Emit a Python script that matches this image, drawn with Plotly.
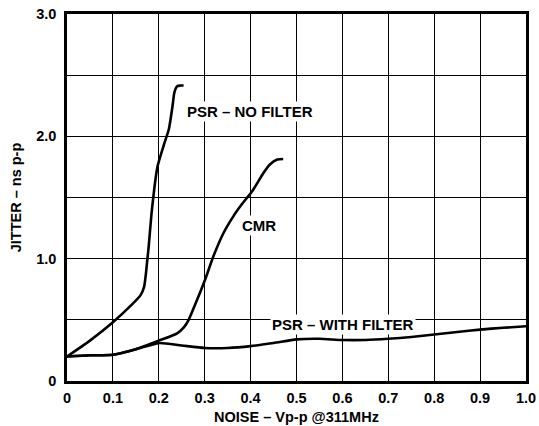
import plotly.graph_objects as go

# PSR – NO FILTER
psr_nf_x = [0.0, 0.05, 0.1, 0.14, 0.16, 0.168, 0.172, 0.175, 0.178, 0.185, 0.197, 0.211, 0.222, 0.23, 0.234, 0.24, 0.247, 0.254]
psr_nf_y = [0.2, 0.33, 0.48, 0.62, 0.70, 0.77, 0.88, 0.99, 1.10, 1.40, 1.75, 1.93, 2.06, 2.25, 2.36, 2.41, 2.415, 2.415]

# CMR
cmr_x = [0.0, 0.05, 0.1, 0.15, 0.2, 0.24, 0.255, 0.265, 0.283, 0.301, 0.319, 0.341, 0.363, 0.38, 0.405, 0.428, 0.442, 0.458, 0.471]
cmr_y = [0.2, 0.21, 0.215, 0.26, 0.33, 0.39, 0.44, 0.50, 0.66, 0.83, 1.02, 1.21, 1.35, 1.44, 1.56, 1.70, 1.77, 1.81, 1.815]

# PSR – WITH FILTER
psr_wf_x = [0.0, 0.05, 0.1, 0.15, 0.2, 0.25, 0.3, 0.35, 0.4, 0.45, 0.5, 0.55, 0.6, 0.65, 0.7, 0.75, 0.8, 0.85, 0.9, 0.95, 1.0]
psr_wf_y = [0.2, 0.21, 0.215, 0.26, 0.31, 0.29, 0.27, 0.27, 0.285, 0.31, 0.34, 0.345, 0.335, 0.335, 0.345, 0.36, 0.38, 0.40, 0.42, 0.435, 0.447]

x_ticks = [0, 0.1, 0.2, 0.3, 0.4, 0.5, 0.6, 0.7, 0.8, 0.9, 1.0]
x_labels = ["0", "0.1", "0.2", "0.3", "0.4", "0.5", "0.6", "0.7", "0.8", "0.9", "1.0"]
y_ticks = [0, 0.5, 1.0, 1.5, 2.0, 2.5, 3.0]
y_labels = ["0", "", "1.0", "", "2.0", "", "3.0"]

labels = [
    ("PSR – NO FILTER", 0.258, 2.2),
    ("CMR", 0.377, 1.275),
    ("PSR – WITH FILTER", 0.442, 0.458),
]

FONT = "Liberation Sans, Arial, sans-serif"

fig = go.Figure()
for xs, ys in [(psr_nf_x, psr_nf_y), (cmr_x, cmr_y), (psr_wf_x, psr_wf_y)]:
    fig.add_trace(go.Scatter(x=xs, y=ys, mode="lines",
                             line=dict(color="black", width=2.6, shape="spline", smoothing=0.6),
                             showlegend=False, hoverinfo="skip"))

for text, x, y in labels:
    fig.add_annotation(x=x, y=y, text="<b>%s</b>" % text, showarrow=False,
                       xanchor="left", yanchor="middle", bgcolor="white",
                       borderpad=1, font=dict(family=FONT, size=15, color="black"))

fig.update_layout(
    width=539, height=426,
    margin=dict(l=66.5, r=12.5, t=14, b=45),
    paper_bgcolor="white", plot_bgcolor="white",
    font=dict(family=FONT, size=14.5, color="black"),
    xaxis=dict(range=[0, 1.0], tickvals=x_ticks, ticktext=["<b>%s</b>" % t for t in x_labels],
               showgrid=True, gridcolor="black", gridwidth=1,
               showline=True, linecolor="black", linewidth=2.5, mirror=True,
               ticks="", zeroline=False, automargin=False, ticklabelstandoff=2,
               ticklabeloverflow="allow",
               tickfont=dict(family=FONT, size=14.5),
               title=dict(text="<b>NOISE – Vp-p @311MHz</b>", standoff=7,
                          font=dict(family=FONT, size=14.5))),
    yaxis=dict(range=[0, 3.0], tickvals=y_ticks, ticktext=["<b>%s</b>" % t if t else "" for t in y_labels],
               showgrid=True, gridcolor="black", gridwidth=1,
               showline=True, linecolor="black", linewidth=2.5, mirror=True,
               ticks="", zeroline=False, ticklabelstandoff=5, automargin=False,
               ticklabeloverflow="allow",
               tickfont=dict(family=FONT, size=14.5),
               title=dict(text="<b>JITTER – ns p-p</b>", standoff=12,
                          font=dict(family=FONT, size=14.5))),
)

fig.write_html("out.html", config={"displayModeBar": False},
               post_script="document.body.style.margin='0';document.body.style.overflow='hidden';")
